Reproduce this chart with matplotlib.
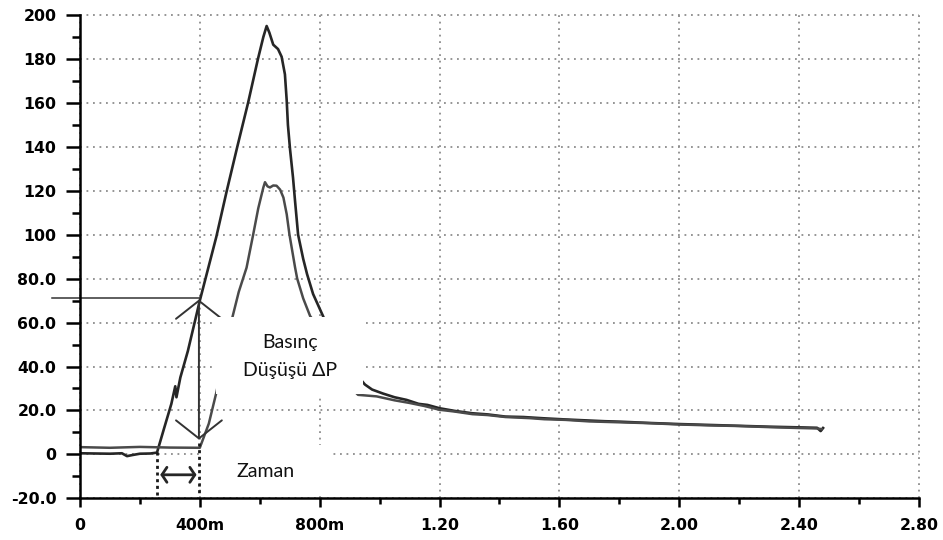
import matplotlib
matplotlib.use("Agg")
import matplotlib.pyplot as plt
from matplotlib.patches import Rectangle
import numpy as np

# ---- data ----
a_x = [0.00, 0.05, 0.10, 0.14, 0.157, 0.175, 0.20, 0.235, 0.257, 0.28, 0.305, 0.318,
       0.322, 0.335, 0.36, 0.40, 0.455, 0.49, 0.525, 0.561, 0.594, 0.612, 0.623,
       0.632, 0.645, 0.661, 0.673, 0.684, 0.690, 0.694, 0.701, 0.711, 0.718, 0.728,
       0.745, 0.758, 0.778, 0.811, 0.85, 0.90, 0.951, 0.975, 1.011, 1.05, 1.09, 1.13,
       1.16, 1.20, 1.25, 1.31, 1.36, 1.42, 1.48, 1.55, 1.62, 1.70, 1.75, 1.80, 1.90,
       2.00, 2.10, 2.20, 2.30, 2.40, 2.46, 2.472, 2.48]
a_y = [0.5, 0.4, 0.3, 0.5, -0.8, -0.3, 0.3, 0.4, 0.8, 11.5, 23, 31,
       26, 35, 47, 70, 99, 120, 140, 160, 180, 190, 195,
       192, 186.5, 184.5, 181, 173, 161, 150, 139, 126, 115, 100,
       89, 82, 73, 63, 50, 40, 31.8, 29.5, 27.7, 26.0, 24.8, 23.0,
       22.5, 21.0, 19.8, 18.7, 18.2, 17.2, 17.0, 16.4, 15.9, 15.4, 15.1, 14.9, 14.3,
       13.8, 13.4, 13.0, 12.6, 12.3, 12.1, 10.6, 12.0]

b_x = [0.00, 0.10, 0.20, 0.30, 0.40, 0.43, 0.456, 0.48, 0.508, 0.53, 0.556, 0.578,
       0.595, 0.612, 0.6175, 0.626, 0.634, 0.645, 0.656, 0.668, 0.679, 0.690, 0.699,
       0.718, 0.725, 0.745, 0.768, 0.80, 0.85, 0.90, 0.928, 0.99, 1.05, 1.10, 1.15,
       1.20, 1.25, 1.31, 1.36, 1.42, 1.50, 1.55, 1.62, 1.70, 1.80, 1.90, 2.00, 2.10,
       2.20, 2.30, 2.40, 2.46, 2.475]
b_y = [3.3, 3.0, 3.4, 3.1, 3.0, 14, 28.6, 45, 62, 74, 85, 100,
       112, 121.5, 123.9, 122, 121.5, 122.4, 122.3, 120.5, 116.9, 109.3, 100.2,
       85, 80, 71, 63, 57, 43, 31, 27.1, 26.4, 24.6, 23.4, 22.0,
       20.3, 19.5, 18.3, 17.9, 17.0, 16.5, 16.0, 15.7, 15.0, 14.6, 14.2, 13.6, 13.2,
       12.9, 12.4, 12.0, 11.8, 11.5]

x_ticks = [0, 0.4, 0.8, 1.2, 1.6, 2.0, 2.4, 2.8]
x_labels = ["0", "400m", "800m", "1.20", "1.60", "2.00", "2.40", "2.80"]
x_minor = [0.2, 0.6, 1.0, 1.4, 1.8, 2.2, 2.6]
y_ticks = [-20, 0, 20, 40, 60, 80, 100, 120, 140, 160, 180, 200]
y_labels = ["-20.0", "0", "20.0", "40.0", "60.0", "80.0", "100", "120", "140",
            "160", "180", "200"]
y_minor = list(range(-10, 200, 20))

dp_level = 71.0        # horizontal reference line
dp_top, dp_bottom = 70.5, 6.7
t_start, t_end = 0.257, 0.397
t_arrow_y = -9.3

# ---- figure ----
fig = plt.figure(figsize=(9.43, 5.4), dpi=100)
ax = fig.add_axes([0.0848, 0.0772, 0.8897, 0.895])
ax.set_xlim(0, 2.8)
ax.set_ylim(-20, 200)

for s in ["top", "right"]:
    ax.spines[s].set_visible(False)
for s in ["left", "bottom"]:
    ax.spines[s].set_linewidth(1.8)
    ax.spines[s].set_color("black")
    ax.spines[s].set_zorder(6)

ax.set_xticks(x_ticks)
ax.set_xticklabels(x_labels)
ax.set_xticks(x_minor, minor=True)
ax.set_yticks(y_ticks)
ax.set_yticklabels(y_labels)
ax.set_yticks(y_minor, minor=True)
ax.tick_params(axis="y", which="major", length=10, width=1.8, pad=7)
ax.tick_params(axis="y", which="minor", length=6, width=1.8)
ax.tick_params(axis="x", which="major", length=6.5, width=1.8, pad=8)
ax.tick_params(axis="x", which="minor", length=4.5, width=1.8)
for lab in ax.get_xticklabels() + ax.get_yticklabels():
    lab.set_fontfamily("DejaVu Sans")
    lab.set_fontweight("bold")
    lab.set_fontsize(11.3)

ax.grid(True, which="major", linestyle=(0, (1, 2.6)), color="#8c8c8c", lw=1.3)
ax.set_axisbelow(True)
for gl in ax.get_xgridlines() + ax.get_ygridlines():
    gl.set_clip_on(False)

# curves
ax.plot(a_x, a_y, color="#262626", lw=1.9, zorder=3, solid_joinstyle="round")
ax.plot(b_x, b_y, color="#4a4a4a", lw=1.8, zorder=3, solid_joinstyle="round")

# reference line at the pressure level (extends past the axis)
ax.plot([-0.093, 0.397], [dp_level, dp_level], color="#333333", lw=1.1,
        clip_on=False, zorder=4)

# pressure drop arrow
ax.annotate("", xy=(0.397, dp_bottom), xytext=(0.397, dp_top),
            arrowprops=dict(arrowstyle="<->,head_length=13,head_width=16.5",
                            mutation_scale=1, lw=1.4, color="#333333",
                            shrinkA=0, shrinkB=0), zorder=4)

# time markers
ax.plot([t_start, t_start], [1.0, -19], color="#1a1a1a", lw=2.0,
        linestyle=(0, (1.1, 1.3)), zorder=4)
ax.plot([t_end, t_end], [5.0, -19], color="#1a1a1a", lw=2.0,
        linestyle=(0, (1.1, 1.3)), zorder=4)
ax.annotate("", xy=(t_start + 0.011, t_arrow_y), xytext=(t_end - 0.008, t_arrow_y),
            arrowprops=dict(arrowstyle="<->,head_length=3.6,head_width=5.4",
                            mutation_scale=1, lw=2.0, color="#262626",
                            shrinkA=0, shrinkB=0), zorder=4)

# white label boxes
ax.add_patch(Rectangle((0.454, 27.3), 0.491, 35.1, facecolor="white",
                       edgecolor="none", zorder=5))
ax.add_patch(Rectangle((0.407, -17.0), 0.431, 21.4, facecolor="white",
                       edgecolor="none", zorder=5))

fam = ["Lato", "Noto Sans", "DejaVu Sans"]
ax.text(0.701, 51.0, "Basınç", ha="center", va="center", fontsize=14,
        family=fam, color="#111111", zorder=7)
ax.text(0.701, 38.2, "Düşüşü ΔP", ha="center", va="center", fontsize=14,
        family=fam, color="#111111", zorder=7)
ax.text(0.621, -7.9, "Zaman", ha="center", va="center", fontsize=14,
        family=fam, color="#111111", zorder=7)

fig.savefig("out.png", dpi=100)
